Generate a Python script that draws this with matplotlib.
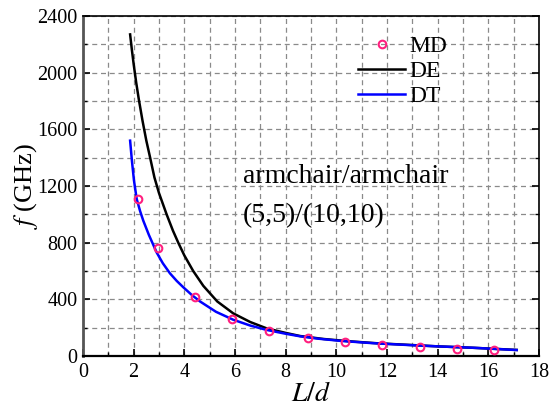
import matplotlib
matplotlib.use("Agg")
from matplotlib import pyplot as plt
from matplotlib.ticker import MultipleLocator

# MD simulation results
md_x = [2.18, 2.96, 4.42, 5.90, 7.36, 8.87, 10.34, 11.82, 13.29, 14.76, 16.24]
md_f = [1108, 760, 419, 261, 176, 129, 97, 78, 64, 52, 45]

# DE model curve
de_x = [1.86, 1.93, 2.00, 2.10, 2.20, 2.35, 2.50, 2.65, 2.82, 3.00, 3.30, 3.55,
        3.76, 4.00, 4.35, 4.75, 5.30, 5.93, 6.60, 7.25, 8.00, 8.57, 9.50, 10.5,
        11.6, 12.8, 14.0, 15.4, 17.12]
de_f = [2270, 2160, 2060, 1930, 1815, 1660, 1520, 1400, 1260, 1150, 1000, 885,
        800, 710, 600, 495, 385, 301, 240, 195, 163, 141, 120, 104,
        90, 79, 68, 58, 43]

# DT model curve
dt_x = [1.86, 1.93, 2.01, 2.12, 2.25, 2.38, 2.60, 2.91, 3.15, 3.43, 3.70, 3.96,
        4.30, 4.62, 5.25, 5.93, 6.60, 7.25, 8.00, 8.57, 9.30, 10.15, 11.4, 12.78,
        14.0, 15.41, 17.12]
dt_f = [1520, 1380, 1242, 1108, 1025, 955, 855, 730, 655, 584, 530, 485,
        430, 385, 312, 256, 215, 184, 157, 139, 122, 107, 91, 78,
        68, 58, 42]

plt.rcParams['font.family'] = ['Liberation Serif', 'DejaVu Serif']
plt.rcParams['mathtext.fontset'] = 'stix'

fig = plt.figure(figsize=(5.49, 4.08), dpi=100)
ax = fig.add_axes([83/549, 1 - 356/408, 456/549, 340/408])

ax.plot(md_x, md_f, linestyle='none', marker='o', markersize=5.5,
        markerfacecolor='none', markeredgecolor='#ff1f7f', markeredgewidth=1.5,
        label='MD', zorder=4)
ax.plot(de_x, de_f, color='black', linewidth=1.8, label='DE', zorder=3)
ax.plot(dt_x, dt_f, color='#0000ff', linewidth=1.8, label='DT', zorder=3)

ax.set_xlim(0, 18)
ax.set_ylim(0, 2400)
ax.xaxis.set_major_locator(MultipleLocator(2))
ax.xaxis.set_minor_locator(MultipleLocator(1))
ax.yaxis.set_major_locator(MultipleLocator(400))
ax.yaxis.set_minor_locator(MultipleLocator(200))

ax.grid(True, which='both', linestyle=(0, (4, 3)), color='#8a8a8a', linewidth=0.9)
ax.set_axisbelow(True)

ax.tick_params(which='both', direction='in', labelsize=14.5, right=True, top=False)
ax.tick_params(which='major', length=5, width=1.2)
ax.tick_params(which='minor', length=3, width=1.0)
ax.tick_params(axis='x', pad=5)
ax.tick_params(axis='y', pad=4)

ax.spines['left'].set_color('#555555')
ax.spines['left'].set_linewidth(2)
ax.spines['bottom'].set_linewidth(1.6)
ax.spines['top'].set_linewidth(1.2)
ax.spines['right'].set_linewidth(1.2)

ax.set_xlabel('$L/d$', fontsize=20, labelpad=0)
ax.set_ylabel('$f$ (GHz)', fontsize=19, labelpad=-2)

ax.text(6.32, 1221, 'armchair/armchair', fontsize=20, va='baseline')
ax.text(6.32, 946, '(5,5)/(10,10)', fontsize=20, va='baseline')

ax.legend(loc='upper left', bbox_to_anchor=(0.603, 0.943), frameon=False,
          fontsize=17, handlelength=2.0, handletextpad=0.17, labelspacing=0.15,
          borderpad=0, borderaxespad=0)

fig.savefig('out.png', dpi=100)
